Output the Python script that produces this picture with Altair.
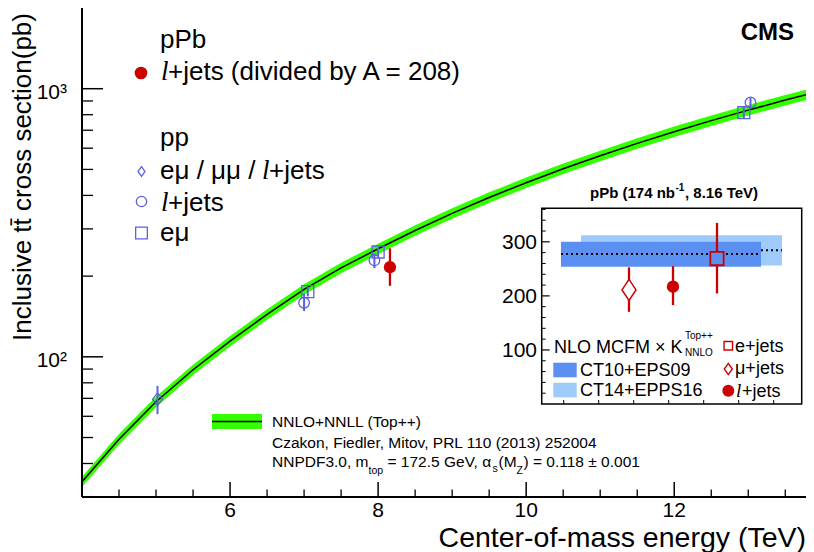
import altair as alt
import pandas as pd

# ---------------- data ----------------
# NNLO+NNLL (Top++) prediction, pp, sqrt(s) in TeV, sigma in pb
theory_E = [4.0, 4.5, 5.0, 5.5, 6.0, 6.5, 7.0, 7.5, 8.0, 8.5, 9.0, 9.5, 10.0,
            10.5, 11.0, 11.5, 12.0, 12.5, 13.0, 13.5, 14.0]
theory_mid = [34.2, 49.3, 68.0, 89.5, 114.5, 144.0, 178.5, 214.5, 252.9, 296.0,
              342.6, 393.0, 446.0, 502.9, 562.0, 625.3, 691.0, 760.2, 831.8,
              907.0, 984.0]
theory_lo = [32.7, 47.1, 64.9, 85.5, 109.3, 137.5, 170.5, 204.8, 241.5, 282.7,
             327.2, 375.3, 425.9, 480.3, 536.7, 597.2, 659.9, 726.0, 794.4,
             866.2, 939.7]
theory_hi = [35.7, 51.5, 71.1, 93.5, 119.7, 150.5, 186.5, 224.2, 264.3, 309.3,
             358.0, 410.7, 466.1, 525.5, 587.3, 653.4, 722.1, 794.4, 869.2,
             947.8, 1028.3]

# pp measurements
pp_comb_E = [5.02]
pp_comb_sig = [69.5]
pp_comb_lo = [61.1]
pp_comb_hi = [77.9]

pp_ljets_E = [7.0, 7.95, 13.03]
pp_ljets_sig = [159.0, 229.0, 888.0]
pp_ljets_lo = [148.0, 214.0, 850.0]
pp_ljets_hi = [172.0, 243.0, 930.0]

pp_emu_E = [7.05, 8.0, 12.94]
pp_emu_sig = [175.0, 246.0, 815.0]
pp_emu_lo = [168.0, 237.0, 777.0]
pp_emu_hi = [182.0, 255.0, 853.0]

# pPb l+jets divided by A = 208
ppb_E = [8.16]
ppb_sig = [216.0]
ppb_lo = [184.0]
ppb_hi = [254.0]

# inset: pPb (174 nb-1, 8.16 TeV)
band_names = ["CT14+EPPS16", "CT10+EPS09"]
band_x0 = [3.93, 1.93]
band_x1 = [24.03, 21.93]
band_lo = [256.0, 254.0]
band_hi = [312.0, 300.0]
band_c = [284.5, 277.3]

ins_names = ["mu+jets", "l+jets", "e+jets"]
ins_x = [8.73, 13.13, 17.53]
ins_sig = [211.0, 217.0, 269.0]
ins_lo = [170.5, 183.0, 204.5]
ins_hi = [252.7, 255.0, 335.0]

# axis ticks
x_major = [6, 8, 10, 12]
x_minor = [4.5, 5.0, 5.5, 6.5, 7.0, 7.5, 8.5, 9.0, 9.5, 10.5, 11.0, 11.5,
           12.5, 13.0, 13.5]
y_major = [100, 1000]
y_major_lab = ["10\u00b2", "10\u00b3"]
y_minor = [40, 50, 60, 70, 80, 90, 200, 300, 400, 500, 600, 700, 800, 900]
ins_y_major = [100, 200, 300]
ins_y_minor = [20, 40, 60, 80, 120, 140, 160, 180, 220, 240, 260, 280, 320,
               340, 360]
ins_x_minor = [2.2, 5.7, 9.2, 12.7, 16.2, 19.7, 23.2]

# ---------------- layout ----------------
OX, OY = 82, 8          # page position of the plot origin
W, H = 724, 489
FONT = "Liberation Sans"
SERIF = "Liberation Serif"
BLUE = "#5f5fe4"
RED = "#cc0000"
GREEN = "#33ff00"
DARK = "#5b8ff2"
LIGHT = "#9ecbfb"
LEG = 26


def px(x):
    return x - OX


def py(y):
    return y - OY


one = pd.DataFrame({"k": [0]})


def T(s, x, y, size, weight="normal", style="normal", font=FONT,
      align="left", baseline="alphabetic", angle=None, color="black"):
    kw = dict(text=s, fontSize=size, font=font, align=align,
              baseline=baseline, color=color, fontWeight=weight,
              fontStyle=style)
    if angle is not None:
        kw["angle"] = angle
    return alt.Chart(one).mark_text(**kw).encode(
        x=alt.value(px(x)), y=alt.value(py(y)))


def SYM(shape, x, y, size, color, fill=None, sw=1.3):
    if fill is None:
        m = alt.Chart(one).mark_point(shape=shape, size=size, filled=False,
                                      color=color, strokeWidth=sw, opacity=1)
    else:
        m = alt.Chart(one).mark_point(shape=shape, size=size, filled=True,
                                      fill=fill, stroke=color, strokeWidth=sw,
                                      opacity=1)
    return m.encode(x=alt.value(px(x)), y=alt.value(py(y)))


def RULE(x1, y1, x2, y2, color="black", width=1.0, dash=None):
    kw = dict(color=color, strokeWidth=width)
    if dash:
        kw["strokeDash"] = dash
    return alt.Chart(one).mark_rule(**kw).encode(
        x=alt.value(px(x1)), x2=alt.value(px(x2)),
        y=alt.value(py(y1)), y2=alt.value(py(y2)))


def RECT(x1, y1, x2, y2, fill, stroke=None, sw=1.0):
    kw = dict(fill=fill, opacity=1)
    if stroke:
        kw["stroke"] = stroke
        kw["strokeWidth"] = sw
    return alt.Chart(one).mark_rect(**kw).encode(
        x=alt.value(px(x1)), x2=alt.value(px(x2)),
        y=alt.value(py(y1)), y2=alt.value(py(y2)))


DIAMOND_MAIN = "M0,-1.25L1,0L0,1.25L-1,0Z"
DIAMOND_LEG = "M0,-1.4L1,0L0,1.4L-1,0Z"
DIAMOND_INS = "M0,-1.5L1,0L0,1.5L-1,0Z"

# ---------------- main plot ----------------
xs = alt.Scale(domain=[4, 13.78], nice=False, zero=False)
ys = alt.Scale(type="log", domain=[30, 2000], nice=False)

theory = pd.DataFrame({"E": theory_E, "mid": theory_mid, "lo": theory_lo,
                       "hi": theory_hi})

band = alt.Chart(theory).mark_area(color=GREEN, opacity=1, clip=True).encode(
    x=alt.X("E:Q", scale=xs, axis=None),
    y=alt.Y("lo:Q", scale=ys, axis=None), y2="hi:Q")
curve = alt.Chart(theory).mark_line(color="black", strokeWidth=1.5,
                                    clip=True).encode(
    x=alt.X("E:Q", scale=xs, axis=None),
    y=alt.Y("mid:Q", scale=ys, axis=None))


def meas(E, s, lo, hi, shape, size, color, filled=False, bar_w=2.0, sw=1.3):
    df = pd.DataFrame({"E": E, "s": s, "lo": lo, "hi": hi})
    bars = alt.Chart(df).mark_rule(color=color, strokeWidth=bar_w).encode(
        x=alt.X("E:Q", scale=xs, axis=None),
        y=alt.Y("lo:Q", scale=ys, axis=None), y2="hi:Q")
    if filled:
        pts = alt.Chart(df).mark_point(shape=shape, size=size, filled=True,
                                       color=color, opacity=1)
    else:
        pts = alt.Chart(df).mark_point(shape=shape, size=size, filled=False,
                                       color=color, strokeWidth=sw, opacity=1)
    pts = pts.encode(x=alt.X("E:Q", scale=xs, axis=None),
                     y=alt.Y("s:Q", scale=ys, axis=None))
    return [bars, pts]


main_layers = [band, curve]
main_layers += meas(pp_comb_E, pp_comb_sig, pp_comb_lo, pp_comb_hi,
                    DIAMOND_MAIN, 100, BLUE)
main_layers += meas(pp_ljets_E, pp_ljets_sig, pp_ljets_lo, pp_ljets_hi,
                    "circle", 113, BLUE)
main_layers += meas(pp_emu_E, pp_emu_sig, pp_emu_lo, pp_emu_hi,
                    "square", 144, BLUE)
main_layers += meas(ppb_E, ppb_sig, ppb_lo, ppb_hi, "circle", 150, RED,
                    filled=True, bar_w=2.3)

# ticks (inside)
xmaj = pd.DataFrame({"v": x_major, "lab": [str(v) for v in x_major]})
xmin = pd.DataFrame({"v": x_minor})
ymaj = pd.DataFrame({"v": y_major, "lab": y_major_lab})
ymin = pd.DataFrame({"v": y_minor})

main_layers += [
    alt.Chart(xmaj).mark_rule(color="black", strokeWidth=1.5).encode(
        x=alt.X("v:Q", scale=xs, axis=None), y=alt.value(H),
        y2=alt.value(H - 15)),
    alt.Chart(xmin).mark_rule(color="black", strokeWidth=1.3).encode(
        x=alt.X("v:Q", scale=xs, axis=None), y=alt.value(H),
        y2=alt.value(H - 7.5)),
    alt.Chart(ymaj).mark_rule(color="black", strokeWidth=1.5).encode(
        y=alt.Y("v:Q", scale=ys, axis=None), x=alt.value(0),
        x2=alt.value(21)),
    alt.Chart(ymin).mark_rule(color="black", strokeWidth=1.3).encode(
        y=alt.Y("v:Q", scale=ys, axis=None), x=alt.value(0),
        x2=alt.value(11)),
    # frame
    RULE(OX, OY - 1, 806, OY - 1, color="#555555", width=1.2),
    RULE(OX, OY - 1, OX, OY + H, width=2),
    RULE(OX, OY + H, 806, OY + H, width=2),
    # tick labels
    alt.Chart(xmaj).mark_text(font=FONT, fontSize=21, align="center",
                              baseline="alphabetic").encode(
        x=alt.X("v:Q", scale=xs, axis=None), y=alt.value(py(517)),
        text="lab:N"),
    alt.Chart(ymaj).mark_text(font=FONT, fontSize=21, align="right",
                              baseline="alphabetic", dy=10).encode(
        y=alt.Y("v:Q", scale=ys, axis=None), x=alt.value(px(67)),
        text="lab:N"),
    # axis titles
    T("Center-of-mass energy (TeV)", 806, 547, 28.5, align="right"),
    T("Inclusive tt\u0304 cross section(pb)", 23, 13, 26, align="right",
      baseline="middle", angle=270),
    T("CMS", 794, 40, 24, weight="bold", align="right"),
    # upper-left legend
    T("pPb", 160, 48, LEG),
    SYM("circle", 141, 73, 130, RED, fill=RED),
    T("l", 161, 80, LEG + 1, style="italic", font=SERIF),
    T("+jets (divided by A = 208)", 168, 80, LEG),
    T("pp", 160, 146, LEG),
    SYM(DIAMOND_LEG, 141.5, 171.5, 49, BLUE),
    T("e\u03bc / \u03bc\u03bc /", 160, 179, LEG),
    T("l", 262, 179, LEG + 1, style="italic", font=SERIF),
    T("+jets", 269, 179, LEG),
    SYM("circle", 141.5, 201.5, 107, BLUE),
    T("l", 161, 211, LEG + 1, style="italic", font=SERIF),
    T("+jets", 168, 211, LEG),
    SYM("square", 141.5, 233, 137, BLUE),
    T("e\u03bc", 160, 241, LEG),
    # lower legend
    RECT(212, 414, 262, 429, GREEN),
    RULE(212, 421.5, 262, 421.5, width=1.5),
    T("NNLO+NNLL (Top++)", 272, 427, 15.5),
    T("Czakon, Fiedler, Mitov, PRL 110 (2013) 252004", 272, 448, 15.5),
    T("NNPDF3.0, m", 272, 467, 15.5),
    T("top", 368.5, 474, 10.5),
    T("= 172.5 GeV, \u03b1", 387.5, 467, 15.5),
    T("s", 492.5, 472, 10.5),
    T("(M", 498.5, 467, 15.5),
    T("Z", 516.6, 474, 10.5),
    T(") = 0.118 \u00b1 0.001", 523.5, 467, 15.5),
]

main = alt.layer(*main_layers)

# ---------------- inset ----------------
IX0, IX1, IY0, IY1 = 541.7, 801.7, 208.3, 404.0
ixs = alt.Scale(domain=[0, 26], range=[px(IX0), px(IX1)], nice=False,
                zero=False)
iys = alt.Scale(domain=[0, 362], range=[py(IY1), py(IY0)], nice=False,
                zero=False)

bands = pd.DataFrame({"name": band_names, "x0": band_x0, "x1": band_x1,
                      "lo": band_lo, "hi": band_hi, "c": band_c})
light = bands[bands.name == "CT14+EPPS16"]
dark = bands[bands.name == "CT10+EPS09"]


def band_rect(df, color):
    return alt.Chart(df).mark_rect(color=color, opacity=1).encode(
        x=alt.X("x0:Q", scale=ixs, axis=None), x2="x1:Q",
        y=alt.Y("lo:Q", scale=iys, axis=None), y2="hi:Q")


def band_line(df):
    return alt.Chart(df).mark_rule(color="black", strokeWidth=2,
                                   strokeDash=[2, 3]).encode(
        x=alt.X("x0:Q", scale=ixs, axis=None), x2="x1:Q",
        y=alt.Y("c:Q", scale=iys, axis=None))


ins = pd.DataFrame({"name": ins_names, "x": ins_x, "s": ins_sig,
                    "lo": ins_lo, "hi": ins_hi})


def ins_pt(name, **kw):
    return alt.Chart(ins[ins.name == name]).mark_point(opacity=1, **kw).encode(
        x=alt.X("x:Q", scale=ixs, axis=None),
        y=alt.Y("s:Q", scale=iys, axis=None))


iymaj = pd.DataFrame({"v": ins_y_major, "lab": [str(v) for v in ins_y_major]})
iymin = pd.DataFrame({"v": ins_y_minor})
ixmin = pd.DataFrame({"v": ins_x_minor})

inset_layers = [
    RECT(IX0, IY0, IX1, IY1, "white"),
    band_rect(light, LIGHT), band_line(light),
    band_rect(dark, DARK), band_line(dark),
    alt.Chart(ins).mark_rule(color=RED, strokeWidth=2.3).encode(
        x=alt.X("x:Q", scale=ixs, axis=None),
        y=alt.Y("lo:Q", scale=iys, axis=None), y2="hi:Q"),
    ins_pt("mu+jets", shape=DIAMOND_INS, size=196, filled=True, fill="white",
           stroke=RED, strokeWidth=1.5),
    ins_pt("l+jets", shape="circle", size=154, filled=True, color=RED),
    ins_pt("e+jets", shape="square", size=177, filled=True, fill=DARK,
           stroke=RED, strokeWidth=1.8),
    # ticks
    alt.Chart(iymaj).mark_rule(color="black", strokeWidth=1.2).encode(
        y=alt.Y("v:Q", scale=iys, axis=None), x=alt.value(px(IX0)),
        x2=alt.value(px(IX0) + 8)),
    alt.Chart(iymin).mark_rule(color="black", strokeWidth=1.0).encode(
        y=alt.Y("v:Q", scale=iys, axis=None), x=alt.value(px(IX0)),
        x2=alt.value(px(IX0) + 4)),
    alt.Chart(ixmin).mark_rule(color="black", strokeWidth=1.0).encode(
        x=alt.X("v:Q", scale=ixs, axis=None), y=alt.value(py(IY1)),
        y2=alt.value(py(IY1) - 4)),
    alt.Chart(iymaj).mark_text(font=FONT, fontSize=21, align="right",
                               baseline="middle", dy=1).encode(
        y=alt.Y("v:Q", scale=iys, axis=None), x=alt.value(px(537)),
        text="lab:N"),
    RECT(IX0, IY0, IX1, IY1, "transparent", stroke="black", sw=1.5),
    # legend inside inset
    T("NLO MCFM \u00d7 K", 554, 353.3, 18),
    T("Top++", 685, 339, 10),
    T("NNLO", 685, 356, 10),
    RECT(553.3, 362.7, 576.7, 377.3, DARK),
    RECT(553.3, 382.7, 576.7, 397.3, LIGHT),
    T("CT10+EPS09", 580, 375.5, 18),
    T("CT14+EPPS16", 580, 395.5, 18),
    SYM("square", 728.3, 345.7, 72, RED, sw=1.4),
    T("e+jets", 735, 351.5, 18),
    SYM(DIAMOND_LEG, 728.3, 369, 64, RED, sw=1.4),
    T("\u03bc+jets", 735, 374, 18),
    SYM("circle", 728.3, 390.7, 113, RED, fill=RED),
    T("l", 736, 396.5, 19, style="italic", font=SERIF),
    T("+jets", 742, 396.5, 18),
    # title
    T("pPb (174 nb", 590, 198.3, 15, weight="bold"),
    T("-1", 675.5, 191, 10, weight="bold"),
    T(", 8.16 TeV)", 685, 198.3, 15, weight="bold"),
]

inset = alt.layer(*inset_layers)

chart = alt.layer(main, inset).resolve_scale(
    x="independent", y="independent"
).properties(
    width=W, height=H,
    padding={"left": OX - 8, "top": OY - 8, "right": 0, "bottom": 56},
    autosize=alt.AutoSizeParams(type="none"),
    background="white",
).configure_view(stroke=None)

chart.save("out.html", embed_options={"renderer": "svg", "actions": False})
